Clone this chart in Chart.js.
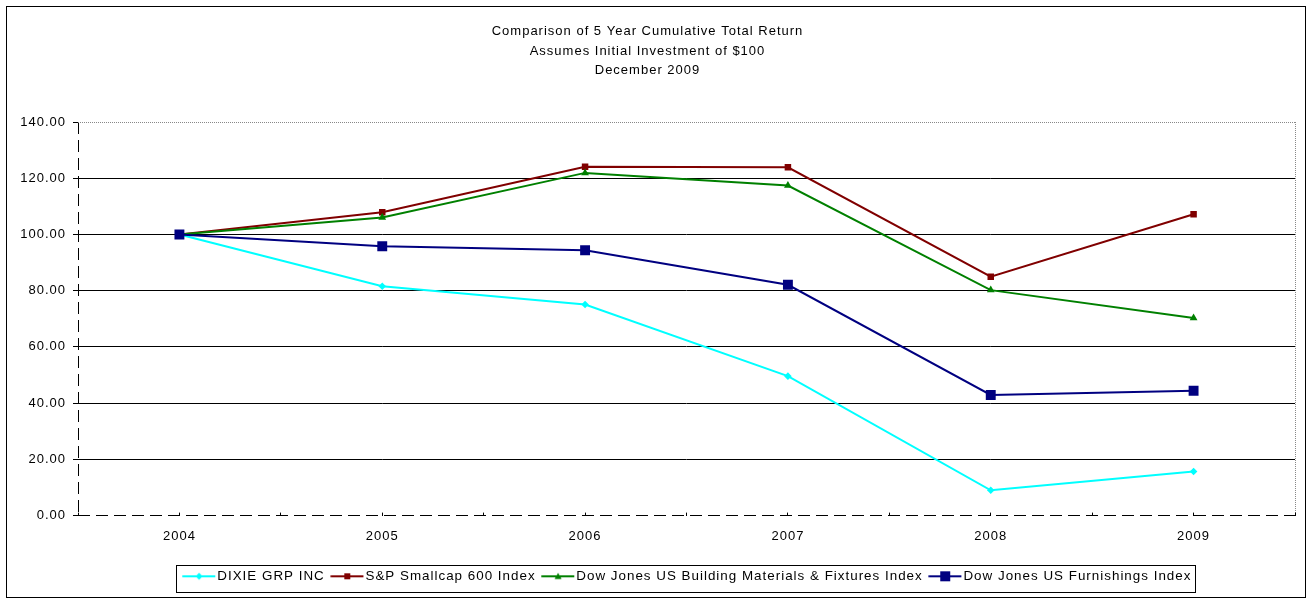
<!DOCTYPE html>
<html>
<head>
<meta charset="utf-8">
<script src="https://cdn.jsdelivr.net/npm/chart.js@4/dist/chart.umd.min.js"></script>
<style>
  html, body { margin: 0; padding: 0; background: #ffffff; }
  #wrap { width: 1313px; height: 604px; position: relative; }
</style>
</head>
<body>
<div id="wrap"><canvas id="c" width="1313" height="604"></canvas></div>
<script>
// ---- data ----
const years = ['2004', '2005', '2006', '2007', '2008', '2009'];
const dixieGrp = [100.0, 81.6, 75.1, 49.6, 9.0, 15.7];
const spSmallcap600 = [100.0, 107.9, 124.1, 123.9, 85.0, 107.2];
const djBuildingMaterials = [100.0, 106.0, 121.9, 117.4, 80.2, 70.3];
const djFurnishings = [100.0, 95.8, 94.4, 82.1, 42.9, 44.4];
const yTicks = [0, 20, 40, 60, 80, 100, 120, 140];
const titleLines = ['Comparison of 5 Year Cumulative Total Return', 'Assumes Initial Investment of $100', 'December 2009'];
const seriesNames = ['DIXIE GRP INC', 'S&P Smallcap 600 Index', 'Dow Jones US Building Materials & Fixtures Index', 'Dow Jones US Furnishings Index'];

const FONT = "'Liberation Sans', Arial, sans-serif";
const FSIZE = 13;
const LEGEND_FSIZE = 13.4;
const SPACING = '1px';

const toPts = arr => arr.map((v, i) => ({ x: i, y: v }));

// legend icons: a short line with the marker in its middle
function makeIcon(color, shape, size) {
  const w = 40, h = 12, a = 6.2, len = 33;
  const cv = document.createElement('canvas');
  cv.width = w; cv.height = h;
  const g = cv.getContext('2d');
  g.strokeStyle = color; g.lineWidth = 2;
  g.beginPath(); g.moveTo(a, h / 2); g.lineTo(a + len, h / 2); g.stroke();
  g.fillStyle = color;
  const cx = Math.round(a + len / 2), cy = h / 2;
  g.beginPath();
  if (shape === 'diamond') {
    g.moveTo(cx, cy - size); g.lineTo(cx + size, cy); g.lineTo(cx, cy + size); g.lineTo(cx - size, cy); g.closePath();
  } else if (shape === 'triangle') {
    g.moveTo(cx, cy - size); g.lineTo(cx + size, cy + size * 0.8); g.lineTo(cx - size, cy + size * 0.8); g.closePath();
  } else {
    g.rect(cx - size, cy - size, size * 2, size * 2);
  }
  g.fill();
  return cv;
}

const colors = ['#00FFFF', '#800000', '#008000', '#000080'];
const icons = [
  makeIcon(colors[0], 'diamond', 3.5),
  makeIcon(colors[1], 'square', 3),
  makeIcon(colors[2], 'triangle', 3.5),
  makeIcon(colors[3], 'square', 5)
];

const spacingPlugin = {
  id: 'spacing',
  beforeUpdate(c) { c.ctx.letterSpacing = SPACING; },
  beforeDraw(c) { c.ctx.letterSpacing = SPACING; }
};

const framePlugin = {
  id: 'frame',
  afterDraw(c) {
    const ctx = c.ctx;
    ctx.save();
    ctx.strokeStyle = '#000';
    ctx.lineWidth = 1;
    // outer chart frame
    ctx.strokeRect(6.5, 6.5, c.width - 14, c.height - 13);
    // box round the legend items
    const lg = c.legend;
    if (lg && lg.legendHitBoxes && lg.legendHitBoxes.length) {
      const hb = lg.legendHitBoxes;
      let l = Infinity, r = -Infinity;
      hb.forEach(b => { l = Math.min(l, b.left); r = Math.max(r, b.left + b.width); });
      ctx.strokeRect(Math.round(l) - 5.5, Math.round(lg.top) + 0.5, Math.round(r - l) + 9, Math.round(lg.height) - 1);
    }
    ctx.restore();
  }
};

const ds = (label, data, color, style, radius, order) => ({
  label, data: toPts(data), order,
  borderColor: color, backgroundColor: color,
  borderWidth: 2, tension: 0,
  pointStyle: style, pointRadius: radius,
  pointBorderWidth: 0, pointBackgroundColor: color, pointBorderColor: color
});

const AXIS_DASH = [12, 6];

new Chart(document.getElementById('c'), {
  type: 'line',
  data: {
    datasets: [
      ds(seriesNames[0], dixieGrp, colors[0], 'rectRot', 3.8, 3),
      ds(seriesNames[1], spSmallcap600, colors[1], 'rect', 4.6, 2),
      ds(seriesNames[2], djBuildingMaterials, colors[2], 'triangle', 4.5, 1),
      ds(seriesNames[3], djFurnishings, colors[3], 'rect', 7, 0)
    ]
  },
  plugins: [spacingPlugin, framePlugin],
  options: {
    responsive: false,
    animation: false,
    devicePixelRatio: 1,
    events: [],
    layout: { padding: { top: 0, left: 0, right: 18, bottom: 11 } },
    font: { family: FONT, size: FSIZE },
    color: '#000',
    plugins: {
      tooltip: { enabled: false },
      title: {
        display: true,
        text: titleLines,
        color: '#000',
        font: { family: FONT, size: FSIZE, weight: 'normal', lineHeight: 1.5 },
        padding: { top: 22, bottom: 41.5 }
      },
      legend: {
        display: true,
        position: 'bottom',
        fullSize: false,
        labels: {
          color: '#000',
          font: { family: FONT, size: LEGEND_FSIZE, lineHeight: 1.2 },
          usePointStyle: true,
          pointStyleWidth: 29,
          padding: 5,
          generateLabels(chart) {
            return seriesNames.map((name, i) => {
              const d = chart.data.datasets[i];
              return {
                text: name,
                fillStyle: d.borderColor,
                strokeStyle: d.borderColor,
                lineWidth: 0,
                pointStyle: icons[i],
                hidden: false,
                datasetIndex: i,
                fontColor: '#000'
              };
            });
          }
        }
      }
    },
    scales: {
      x: {
        type: 'linear',
        min: -0.5,
        max: 5.5,
        afterFit(s) { s.height = 49; },
        ticks: {
          stepSize: 0.5,
          autoSkip: false,
          maxRotation: 0,
          color: '#000',
          padding: 16,
          font: { family: FONT, size: FSIZE },
          callback: v => (Number.isInteger(v) ? years[v] : '')
        },
        grid: {
          drawOnChartArea: true,
          drawTicks: true,
          tickLength: -3,
          tickColor: '#000',
          lineWidth: 1,
          color: ctx => {
            if (!ctx.tick) return 'rgba(0,0,0,0)';
            if (ctx.tick.value === 5.5) return '#888888';
            if (ctx.tick.value === -0.5) return '#000000';
            return 'rgba(0,0,0,0)';
          }
        },
        border: {
          display: false,
          dash: ctx => (ctx.tick && ctx.tick.value === -0.5 ? AXIS_DASH : [1, 1])
        }
      },
      y: {
        min: 0,
        max: 140,
        afterFit(s) { s.width = 78; },
        afterBuildTicks(s) { s.ticks = yTicks.map(v => ({ value: v })); },
        ticks: {
          color: '#000',
          padding: 7,
          font: { family: FONT, size: FSIZE },
          callback: v => Number(v).toFixed(2)
        },
        grid: {
          drawTicks: true,
          tickLength: 5,
          tickColor: '#000',
          lineWidth: 1,
          color: ctx => {
            if (!ctx.tick) return '#000';
            if (ctx.tick.value === 140) return '#888888';
            return '#000';
          }
        },
        border: {
          display: false,
          dash: ctx => {
            if (!ctx.tick) return [];
            if (ctx.tick.value === 0) return AXIS_DASH;
            if (ctx.tick.value === 140) return [1, 1];
            return [];
          }
        }
      }
    }
  }
});
</script>
</body>
</html>
